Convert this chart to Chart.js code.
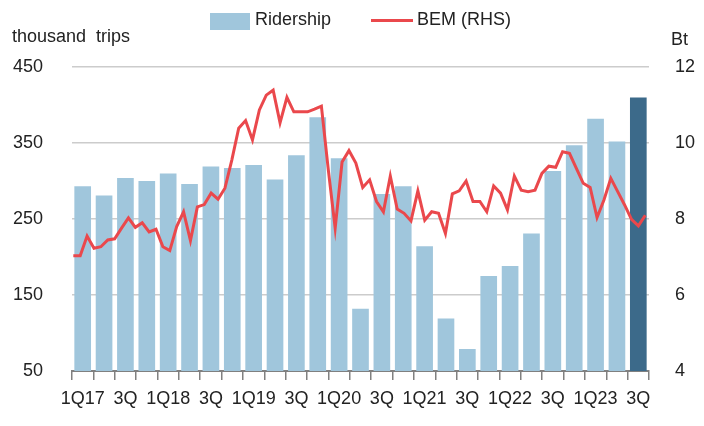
<!DOCTYPE html>
<html>
<head>
<meta charset="utf-8">
<script src="https://cdn.jsdelivr.net/npm/chart.js@4.4.1/dist/chart.umd.min.js"></script>
<style>
  body { margin: 0; background: #fff; }
  #wrap { position: relative; width: 704px; height: 426px; font-family: "Liberation Sans", Arial, sans-serif; color: #222; }
  #wrap canvas { position: absolute; left: 0; top: 0; }
  .lbl { position: absolute; font-size: 18px; line-height: 18px; white-space: pre; }
  .box { position: absolute; }
</style>
</head>
<body>
<div id="wrap">
  <canvas id="chart"></canvas>
  <div class="lbl" style="left:12px; top:27px;">thousand  trips</div>
  <div class="lbl" style="left:671px; top:30px;">Bt</div>
  <div class="box" style="left:210px; top:13px; width:40px; height:17px; background:#a0c6dc;"></div>
  <div class="lbl" style="left:255px; top:10px;">Ridership</div>
  <div class="box" style="left:371px; top:19px; width:42px; height:3px; background:#ea484c;"></div>
  <div class="lbl" style="left:417px; top:10px;">BEM (RHS)</div>
</div>
<script>
// quarterly ridership, thousand trips
var quarters = ['1Q17','2Q17','3Q17','4Q17','1Q18','2Q18','3Q18','4Q18',
                '1Q19','2Q19','3Q19','4Q19','1Q20','2Q20','3Q20','4Q20',
                '1Q21','2Q21','3Q21','4Q21','1Q22','2Q22','3Q22','4Q22',
                '1Q23','2Q23','3Q23'];
var xTickLabels = ['1Q17','','3Q','','1Q18','','3Q','','1Q19','','3Q','',
                   '1Q20','','3Q','','1Q21','','3Q','','1Q22','','3Q','',
                   '1Q23','','3Q'];
var ridership = [293, 281, 304, 300, 310, 296, 319, 317, 321, 302, 334, 384,
                 330, 132, 283, 293, 214, 119, 79, 175, 188, 231, 313, 347,
                 382, 352, 410];

// BEM share price (Bt), right axis
var bemPrice = [7.03, 7.03, 7.55, 7.23, 7.27, 7.45, 7.48, 7.76, 8.03, 7.78,
                7.90, 7.66, 7.73, 7.27, 7.17, 7.80, 8.19, 7.43, 8.32, 8.38,
                8.68, 8.52, 8.81, 9.55, 10.39, 10.59, 10.08, 10.87, 11.26, 11.39,
                10.53, 11.20, 10.82, 10.82, 10.82, 10.89, 10.97, 9.30, 7.76, 9.50,
                9.80, 9.47, 8.83, 9.03, 8.46, 8.19, 9.13, 8.26, 8.15, 7.95,
                8.74, 7.97, 8.19, 8.15, 7.62, 8.66, 8.74, 9.00, 8.46, 8.46,
                8.19, 8.87, 8.68, 8.24, 9.13, 8.76, 8.72, 8.76, 9.20, 9.39,
                9.36, 9.77, 9.73, 9.33, 8.94, 8.83, 8.04, 8.50, 9.07, 8.72,
                8.37, 7.99, 7.82, 8.10];

var leftTicks = [50, 150, 250, 350, 450];
var rightTicks = [4, 6, 8, 10, 12];

var barColors = ridership.map(function(v, i) {
    return i === ridership.length - 1 ? '#3c6a8a' : '#a0c6dc';
});
var bemPoints = bemPrice.map(function(v, i) { return { x: i, y: v }; });

var font = { family: '"Liberation Sans", Arial, sans-serif', size: 18 };

var ctx = document.getElementById('chart').getContext('2d');
var chart = new Chart(ctx, {
    data: {
        labels: quarters,
        datasets: [{
            type: 'line',
            label: 'BEM (RHS)',
            data: bemPoints,
            xAxisID: 'xm',
            yAxisID: 'y1',
            borderColor: '#ea484c',
            borderWidth: 3,
            pointRadius: 0,
            tension: 0,
            order: 0
        }, {
            type: 'bar',
            label: 'Ridership',
            data: ridership,
            xAxisID: 'x',
            yAxisID: 'y',
            backgroundColor: barColors,
            grouped: false,
            barPercentage: 0.78,
            categoryPercentage: 1,
            order: 1
        }]
    },
    options: {
        responsive: true,
        maintainAspectRatio: false,
        animation: false,
        layout: { padding: { left: 0, right: 0, top: 67, bottom: 0 } },
        plugins: { legend: { display: false }, tooltip: { enabled: false } },
        scales: {
            x: {
                type: 'category',
                position: 'bottom',
                offset: true,
                grid: { offset: true, drawOnChartArea: false, drawTicks: true, tickLength: 9, color: '#808080', lineWidth: 1.5 },
                border: { display: true, color: '#808080', width: 2 },
                ticks: {
                    autoSkip: false, maxRotation: 0, minRotation: 0, padding: 8,
                    color: '#222', font: font,
                    callback: function(v, i) { return xTickLabels[i]; }
                },
                afterFit: function(s) { s.height = 55; }
            },
            xm: {
                type: 'linear',
                display: false,
                min: -0.19,
                max: 83.54
            },
            y: {
                position: 'left',
                min: 50, max: 450,
                afterBuildTicks: function(s) { s.ticks = leftTicks.map(function(v) { return { value: v }; }); },
                grid: { color: '#cccccc', lineWidth: 1.5, drawTicks: false },
                border: { display: false },
                ticks: { padding: 29, color: '#222', font: font },
                afterFit: function(s) { s.width = 72; }
            },
            y1: {
                position: 'right',
                min: 4, max: 12,
                afterBuildTicks: function(s) { s.ticks = rightTicks.map(function(v) { return { value: v }; }); },
                grid: { drawOnChartArea: false, drawTicks: false },
                border: { display: false },
                ticks: { padding: 26, color: '#222', font: font },
                afterFit: function(s) { s.width = 55; }
            }
        }
    }
});
</script>
</body>
</html>
